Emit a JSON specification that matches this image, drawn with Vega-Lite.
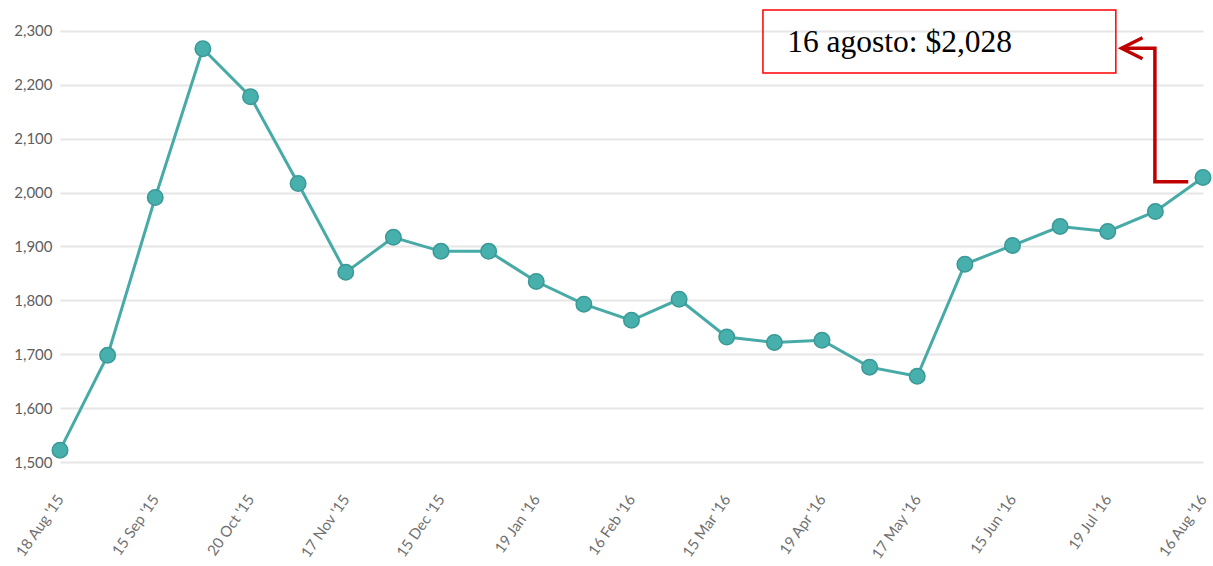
{
  "$schema": "https://vega.github.io/schema/vega-lite/v6.json",
  "autosize": "none",
  "width": 1143,
  "height": 462,
  "padding": {"left": 60, "top": 0, "right": 10, "bottom": 104},
  "config": {"view": {"stroke": null}, "font": "Lato"},
  "datasets": {
    "prices": [
      {"i": 0, "date": "18 Aug '15", "price": 1522},
      {"i": 1, "date": "01 Sep '15", "price": 1698},
      {"i": 2, "date": "15 Sep '15", "price": 1991},
      {"i": 3, "date": "01 Oct '15", "price": 2267},
      {"i": 4, "date": "20 Oct '15", "price": 2178},
      {"i": 5, "date": "03 Nov '15", "price": 2017},
      {"i": 6, "date": "17 Nov '15", "price": 1852},
      {"i": 7, "date": "01 Dec '15", "price": 1917},
      {"i": 8, "date": "15 Dec '15", "price": 1891},
      {"i": 9, "date": "05 Jan '16", "price": 1891},
      {"i": 10, "date": "19 Jan '16", "price": 1835},
      {"i": 11, "date": "02 Feb '16", "price": 1793},
      {"i": 12, "date": "16 Feb '16", "price": 1763},
      {"i": 13, "date": "01 Mar '16", "price": 1802},
      {"i": 14, "date": "15 Mar '16", "price": 1732},
      {"i": 15, "date": "05 Apr '16", "price": 1722},
      {"i": 16, "date": "19 Apr '16", "price": 1726},
      {"i": 17, "date": "03 May '16", "price": 1676},
      {"i": 18, "date": "17 May '16", "price": 1659},
      {"i": 19, "date": "01 Jun '16", "price": 1867},
      {"i": 20, "date": "15 Jun '16", "price": 1902},
      {"i": 21, "date": "05 Jul '16", "price": 1937},
      {"i": 22, "date": "19 Jul '16", "price": 1928},
      {"i": 23, "date": "02 Aug '16", "price": 1965},
      {"i": 24, "date": "16 Aug '16", "price": 2028}
    ],
    "box": [{"x1": 14.76, "x2": 22.17, "y1": 2222, "y2": 2339}],
    "label": [{"x": 15.27, "y": 2261, "text": "16 agosto: $2,028"}],
    "arrow": [
      {"k": 0, "x": 23.69, "y": 2020},
      {"k": 1, "x": 22.99, "y": 2020},
      {"k": 2, "x": 22.99, "y": 2268},
      {"k": 3, "x": 22.29, "y": 2268}
    ],
    "head": [{"x": 22.51, "y": 2268}]
  },
  "layer": [
    {
      "data": {"name": "prices"},
      "mark": {"type": "line", "color": "#48aaa7", "strokeWidth": 3},
      "encoding": {
        "x": {
          "field": "i", "type": "quantitative",
          "scale": {"domain": [0, 24], "nice": false, "zero": false},
          "axis": {
            "title": null,
            "values": [0, 2, 4, 6, 8, 10, 12, 14, 16, 18, 20, 22, 24],
            "labelExpr": "[\"18 Aug '15\", \"15 Sep '15\", \"20 Oct '15\", \"17 Nov '15\", \"15 Dec '15\", \"19 Jan '16\", \"16 Feb '16\", \"15 Mar '16\", \"19 Apr '16\", \"17 May '16\", \"15 Jun '16\", \"19 Jul '16\", \"16 Aug '16\"][round(datum.value / 2)]",
            "labelAngle": -55,
            "labelAlign": "right",
            "labelBaseline": "middle",
            "labelFontSize": 15,
            "labelColor": "#707070",
            "labelPadding": 34,
            "domain": false,
            "ticks": false,
            "grid": false,
            "labelOverlap": false,
            "labelBound": false,
            "labelFlush": false
          }
        },
        "y": {
          "field": "price", "type": "quantitative",
          "scale": {"domain": [1500, 2357.5], "nice": false, "zero": false},
          "axis": {
            "title": null,
            "values": [1500, 1600, 1700, 1800, 1900, 2000, 2100, 2200, 2300],
            "format": ",d",
            "labelFontSize": 15,
            "labelColor": "#606060",
            "labelPadding": 8,
            "domain": false,
            "ticks": false,
            "gridColor": "#e6e6e6",
            "gridWidth": 2
          }
        }
      }
    },
    {
      "data": {"name": "prices"},
      "mark": {"type": "point", "filled": true, "fill": "#47b0ad", "stroke": "#3a9996", "strokeWidth": 1.5, "size": 240, "opacity": 1},
      "encoding": {
        "x": {"field": "i", "type": "quantitative"},
        "y": {"field": "price", "type": "quantitative"}
      }
    },
    {
      "data": {"name": "box"},
      "mark": {"type": "rect", "fill": "white", "fillOpacity": 0, "stroke": "#ff0000", "strokeWidth": 1.5},
      "encoding": {
        "x": {"field": "x1", "type": "quantitative"},
        "x2": {"field": "x2"},
        "y": {"field": "y1", "type": "quantitative"},
        "y2": {"field": "y2"}
      }
    },
    {
      "data": {"name": "label"},
      "mark": {"type": "text", "font": "Liberation Serif", "fontSize": 31.5, "align": "left", "baseline": "alphabetic", "color": "#000000"},
      "encoding": {
        "x": {"field": "x", "type": "quantitative"},
        "y": {"field": "y", "type": "quantitative"},
        "text": {"field": "text"}
      }
    },
    {
      "data": {"name": "arrow"},
      "mark": {"type": "line", "color": "#c00000", "strokeWidth": 3.5, "strokeJoin": "miter", "strokeCap": "butt"},
      "encoding": {
        "x": {"field": "x", "type": "quantitative"},
        "y": {"field": "y", "type": "quantitative"},
        "order": {"field": "k"}
      }
    },
    {
      "data": {"name": "head"},
      "mark": {"type": "point", "shape": "M1,-1L-1,0L1,1", "filled": false, "stroke": "#c00000", "strokeWidth": 3.5, "size": 441, "opacity": 1, "strokeJoin": "miter"},
      "encoding": {
        "x": {"field": "x", "type": "quantitative"},
        "y": {"field": "y", "type": "quantitative"}
      }
    }
  ]
}
